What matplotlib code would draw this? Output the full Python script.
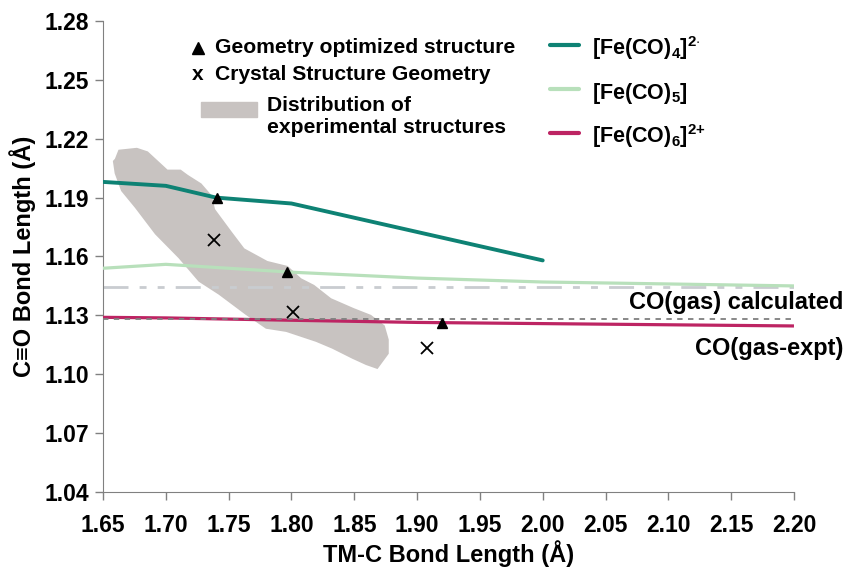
import matplotlib
matplotlib.use("Agg")
import matplotlib.pyplot as plt
import numpy as np

plt.rcParams['font.family'] = ['Liberation Sans', 'DejaVu Sans']
plt.rcParams['font.weight'] = 'bold'
plt.rcParams['mathtext.fontset'] = 'custom'
plt.rcParams['mathtext.rm'] = 'Liberation Sans:bold'
plt.rcParams['mathtext.bf'] = 'Liberation Sans:bold'
plt.rcParams['mathtext.default'] = 'rm'

# calculated C-O vs TM-C curves
fe4_x = [1.65, 1.70, 1.74, 1.80, 2.00]
fe4_y = [1.198, 1.196, 1.190, 1.187, 1.158]
fe5_x = [1.65, 1.70, 1.80, 1.90, 2.00, 2.10, 2.20]
fe5_y = [1.154, 1.156, 1.152, 1.149, 1.147, 1.146, 1.145]
fe6_x = [1.65, 1.70, 1.80, 1.90, 2.00, 2.10, 2.20]
fe6_y = [1.129, 1.1287, 1.1275, 1.1264, 1.1258, 1.1252, 1.1246]

# reference levels for free CO
co_calc = 1.1445
co_expt = 1.128

# geometry optimized / crystal structures
opt_x = [1.7405, 1.7966, 1.9196]
opt_y = [1.190, 1.152, 1.1263]
xtal_x = [1.7386, 1.8015, 1.9077]
xtal_y = [1.1684, 1.1319, 1.1132]

# outline of the experimental distribution
blob_x = [1.6609, 1.6635, 1.6768, 1.6848, 1.7007, 1.7113, 1.7166, 1.7272, 1.7352,
          1.7376, 1.7511, 1.7614, 1.7803, 1.7962, 1.8068, 1.8172, 1.8307, 1.8490,
          1.8625, 1.8728, 1.8758, 1.8758, 1.8679, 1.8599, 1.8490, 1.8331, 1.8201,
          1.7962, 1.7803, 1.7644, 1.7431, 1.7272, 1.7113, 1.6927, 1.6768, 1.6659,
          1.6609, 1.6596]
blob_y = [1.2092, 1.2134, 1.2143, 1.2126, 1.2032, 1.2032, 1.2007, 1.1964, 1.1905,
          1.1837, 1.1720, 1.1633, 1.1567, 1.1542, 1.1480, 1.1446, 1.1378, 1.1327,
          1.1293, 1.1242, 1.1175, 1.1108, 1.1039, 1.1057, 1.1089, 1.1140, 1.1175,
          1.1226, 1.1242, 1.1312, 1.1414, 1.1480, 1.1599, 1.1720, 1.1854, 1.1939,
          1.2026, 1.2083]

xticks = [1.65, 1.70, 1.75, 1.80, 1.85, 1.90, 1.95, 2.00, 2.05, 2.10, 2.15, 2.20]
yticks = [1.04, 1.07, 1.10, 1.13, 1.16, 1.19, 1.22, 1.25, 1.28]

teal = '#0e8274'
lgreen = '#b8e0bb'
magenta = '#bd2463'
blobc = '#c8c3c1'

fig = plt.figure(figsize=(8.47, 5.67), dpi=100)
ax = fig.add_axes([0.1216, 0.1323, 0.8158, 0.8307])

ax.fill(blob_x, blob_y, facecolor=blobc, edgecolor=blobc, lw=3, joinstyle='miter', zorder=1)

ax.plot([1.65, 2.20], [co_calc, co_calc], color='#c9ccd0', lw=2,
        dashes=[9, 4, 2.5, 4, 2.5, 4], zorder=2)
ax.plot(fe5_x, fe5_y, color=lgreen, lw=2.3, zorder=3, solid_capstyle='butt')
ax.plot(fe6_x, fe6_y, color=magenta, lw=2.3, zorder=3, solid_capstyle='butt')
ax.plot([1.65, 2.20], [co_expt, co_expt], color='#7f7f7f', lw=1.3,
        dashes=[3, 3], zorder=4)
ax.plot(fe4_x, fe4_y, color=teal, lw=2.8, zorder=3, solid_capstyle='round')

ax.plot(opt_x, opt_y, '^', color='black', ms=7, zorder=5)
ax.plot(xtal_x, xtal_y, 'x', color='black', ms=9, mew=1.3, zorder=5)

ax.set_xlim(1.65, 2.20)
ax.set_ylim(1.04, 1.28)
ax.set_xticks(xticks)
ax.set_yticks(yticks)
ax.set_xticklabels(['%.2f' % v for v in xticks])
ax.set_yticklabels(['%.2f' % v for v in yticks])
ax.tick_params(axis='both', colors='#808080', labelcolor='black', labelsize=16.5,
               length=6, width=1, direction='out')
ax.tick_params(axis='x', pad=10)
ax.tick_params(axis='y', pad=4)
for s in ['top', 'right']:
    ax.spines[s].set_visible(False)
for s in ['left', 'bottom']:
    ax.spines[s].set_color('#808080')

ax.set_xlabel('TM-C Bond Length (Å)', fontsize=17, fontweight='bold', labelpad=2)
ax.set_ylabel('C\u2261O Bond Length (Å)', fontsize=17, fontweight='bold', labelpad=6)

# left key
ax.plot([0.1375], [0.9427], '^', color='black', ms=8, transform=ax.transAxes, clip_on=False)
ax.text(0.162, 0.9427, 'Geometry optimized structure', transform=ax.transAxes,
        fontsize=15.2, va='center', ha='left')
ax.text(0.1375, 0.8854, 'x', transform=ax.transAxes, fontsize=15, va='center', ha='center')
ax.text(0.162, 0.8854, 'Crystal Structure Geometry', transform=ax.transAxes,
        fontsize=15.2, va='center', ha='left')
ax.add_patch(plt.Rectangle((0.1414, 0.7955), 0.0819, 0.0332, transform=ax.transAxes,
                           color=blobc, clip_on=False))
ax.text(0.2369, 0.8195, 'Distribution of', transform=ax.transAxes,
        fontsize=15.2, va='center', ha='left')
ax.text(0.2369, 0.7728, 'experimental structures', transform=ax.transAxes,
        fontsize=15.2, va='center', ha='left')

# right key
keys = [(teal, r'[Fe(CO)$_4$]$^{2{\cdot}}$', 0.949),
        (lgreen, r'[Fe(CO)$_5$]', 0.8556),
        (magenta, r'[Fe(CO)$_6$]$^{2{+}}$', 0.7622)]
for c, lab, fy in keys:
    ax.plot([0.6469, 0.6889], [fy, fy], color=c, lw=3, transform=ax.transAxes,
            solid_capstyle='round', clip_on=False)
    ax.text(0.7077, fy - 0.022, lab, transform=ax.transAxes, fontsize=15.5,
            va='baseline', ha='left')

ax.text(1.071, 0.4013, 'CO(gas) calculated', transform=ax.transAxes, fontsize=17,
        va='center', ha='right')
ax.text(1.071, 0.3045, 'CO(gas-expt)', transform=ax.transAxes, fontsize=17,
        va='center', ha='right')

fig.savefig('out.png', dpi=100)
